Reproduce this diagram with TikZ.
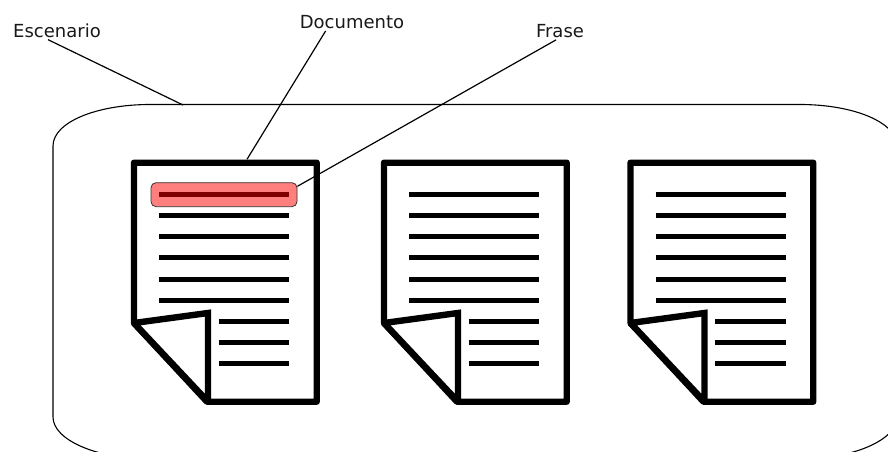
\documentclass[tikz,border=0pt]{standalone}
\usepackage{fontspec}
\setmainfont{DejaVu Sans}
\usetikzlibrary{positioning}
\tikzset{
  etiqueta/.style = {inner sep=2pt, font=\fontsize{18}{20}\selectfont, text=black!90},
  hoja/.style = {inner sep=0pt, minimum width=183pt, minimum height=239pt},% solo da nombre a la pagina
  borde/.style = {line width=6.4pt, line join=round, fill=white},
  pliegue/.style = {line width=6.4pt, line join=miter, miter limit=2, fill=white},
  renglon/.style = {line width=5pt},
  guia/.style = {line width=1.2pt},
  caja/.style = {line width=1.1pt},
  marca/.style = {draw=black!80, line width=0.8pt, fill=red, fill opacity=0.5,
    rounded corners=5pt, inner sep=0pt, minimum width=146pt, minimum height=24pt}
}
\begin{document}
\begin{tikzpicture}[x=1pt,y=-1pt]
        \clip (0,0) rectangle (888,452);
        \fill[white] (0,0) rectangle (888,452);
        \draw[caja] (53,146) .. controls (53,122) and (97,104.5) .. (150,104.5)
            -- (800,104.5) .. controls (853,104.5) and (897,122) .. (897,146)
            -- (897,417) .. controls (897,440) and (853,459) .. (800,459)
            -- (150,459) .. controls (97,459) and (53,440) .. (53,417) -- cycle;
        \coordinate (borde caja) at (183,105);
        \foreach \n/\x in {1/0,2/250,3/496.5}{
            \begin{scope}[xshift=\x pt]
                \node [hoja] (doc\n) at (225.5,282) {};
                \draw[borde] (134,162.7) -- (134,323) -- (207,401.7) -- (316.7,401.7) -- (316.7,162.7) -- cycle;
                \foreach \y in {194.3,215.5,236.6,257.8,279,300}
                    \draw[renglon] (159,\y) -- (289,\y);
                \foreach \y in {321,342,363}
                    \draw[renglon] (218.7,\y) -- (289,\y);
                \draw[pliegue] (134,323) -- (208,313) -- (208,401.7) -- cycle;
            \end{scope}
        }
        \node [marca] (frase marcada) at (224,194.7) {};
        \node [etiqueta] (escenario) at (57,30.5) {Escenario};
        \node [etiqueta] (documento) at (352,22) {Documento};
        \node [etiqueta] (frase) at (560,31) {Frase};
        \draw[guia] ([xshift=37pt]escenario.south west) -- (borde caja);
        \draw[guia] ([xshift=28pt]documento.south west) -- ([xshift=21.5pt,yshift=3pt]doc1.north);
        \draw[guia] ([xshift=-4pt]frase.south) -- ([yshift=-4pt]frase marcada.north east);
\end{tikzpicture}
\end{document}
